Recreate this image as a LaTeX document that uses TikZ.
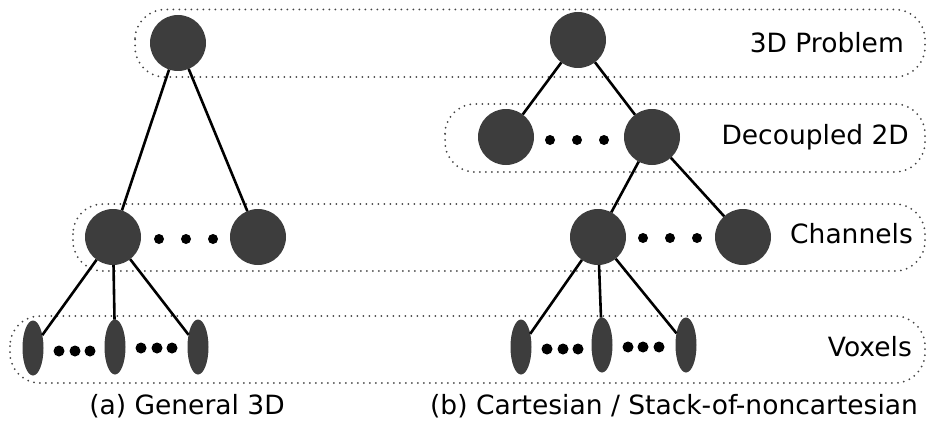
\documentclass[tikz,border=0pt]{standalone}
\usepackage{fontspec}
\setmainfont{DejaVu Sans}
\usetikzlibrary{shapes.geometric}
\definecolor{nodegray}{HTML}{3D3D3D}
\definecolor{rowgray}{HTML}{444444}
\begin{document}
\begin{tikzpicture}[x=1pt,y=-1pt,
  circ/.style={circle,fill=nodegray,inner sep=0pt,outer sep=0pt,minimum size=56pt},
  vox/.style={ellipse,fill=nodegray,inner sep=0pt,outer sep=0pt,minimum width=21pt,minimum height=55pt},
  dotn/.style={circle,fill=black,inner sep=0pt,minimum size=10pt},
  vdot/.style={circle,fill=black,inner sep=0pt,minimum size=11pt},
  edge/.style={line width=2.6pt,black},
  rowbox/.style={rowgray,line width=2pt,dash pattern=on 0pt off 6pt,line cap=round,rounded corners=30pt},
  lbl/.style={font=\fontsize{26.5}{30}\selectfont,inner sep=0pt}]
\useasboundingbox (0,0) rectangle (927,428);
% rows
\draw[rowbox] (135,9.5) rectangle (925,77);
\draw[rowbox] (445,104) rectangle (925,172);
\draw[rowbox] (73,204) rectangle (925,271);
\draw[rowbox] (10,316) rectangle (925,383);
% left tree
\node[circ] (a0) at (178,43) {};
\node[circ] (a1) at (113,237) {};
\node[circ] (a2) at (258,237) {};
\node[vox] (av1) at (33,348) {};
\node[vox] (av2) at (115,347) {};
\node[vox] (av3) at (198,347) {};
\node[dotn] (ad1) at (159,239) {};
\node[dotn] (ad2) at (186,239) {};
\node[dotn] (ad3) at (213,239) {};
\node[vdot] (ae1) at (59,351) {};
\node[vdot] (ae2) at (75,351) {};
\node[vdot] (ae3) at (90,351) {};
\node[vdot] (af1) at (141,348) {};
\node[vdot] (af2) at (157,348) {};
\node[vdot] (af3) at (172,348) {};
\draw[edge] (a0) -- (a1);
\draw[edge] (a0) -- (a2);
\draw[edge] (a1) -- (av1);
\draw[edge] (a1) -- (av2);
\draw[edge] (a1) -- (av3);
% right tree
\node[circ] (b0) at (578,40) {};
\node[circ] (b1) at (506,137) {};
\node[circ] (b2) at (652,137) {};
\node[circ] (b3) at (598,237) {};
\node[circ] (b4) at (743,237) {};
\node[vox] (bv1) at (521,347) {};
\node[vox] (bv2) at (602,345) {};
\node[vox] (bv3) at (686,345) {};
\node[dotn] (bd1) at (550,140) {};
\node[dotn] (bd2) at (577,140) {};
\node[dotn] (bd3) at (604,140) {};
\node[dotn] (bc1) at (643,238) {};
\node[dotn] (bc2) at (670,238) {};
\node[dotn] (bc3) at (697,238) {};
\node[vdot] (be1) at (547,349) {};
\node[vdot] (be2) at (563,349) {};
\node[vdot] (be3) at (578,349) {};
\node[vdot] (bf1) at (628,347) {};
\node[vdot] (bf2) at (643,347) {};
\node[vdot] (bf3) at (659,347) {};
\draw[edge] (b0) -- (b1);
\draw[edge] (b0) -- (b2);
\draw[edge] (b2) -- (b3);
\draw[edge] (b2) -- (b4);
\draw[edge] (b3) -- (bv1);
\draw[edge] (b3) -- (bv2);
\draw[edge] (b3) -- (bv3);
% labels
\node[lbl,anchor=east] (l1) at (904,43) {3D Problem};
\node[lbl,anchor=east] (l2) at (909,137) {Decoupled 2D};
\node[lbl,anchor=east] (l3) at (913,234) {Channels};
\node[lbl,anchor=east] (l4) at (912,347) {Voxels};
\node[lbl] (ca) at (187,406) {(a) General 3D};
\node[lbl] (cb) at (674,406) {(b) Cartesian / Stack-of-noncartesian};
\end{tikzpicture}
\end{document}
